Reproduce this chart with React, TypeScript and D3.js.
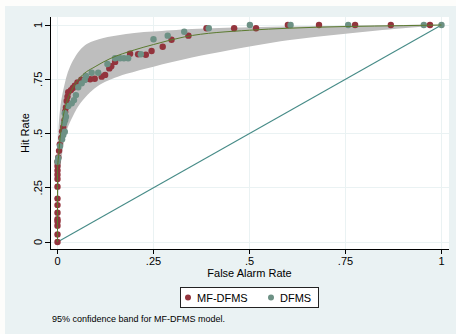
import * as d3 from "d3";
import React, { useEffect, useRef } from "react";

// fitted ROC curve for MF-DFMS and its 95% band
const curveFa = [0, 0, 0.003, 0.008, 0.015, 0.025, 0.04, 0.06, 0.1, 0.137, 0.2, 0.25, 0.33, 0.5, 0.6, 0.75, 0.9, 1];
const curveHit = [0, 0.33, 0.4, 0.5, 0.58, 0.65, 0.71, 0.76, 0.81, 0.845, 0.885, 0.91, 0.945, 0.976, 0.985, 0.993, 0.997, 1];

const upperFa = [0, 0.0005, 0.002, 0.0065, 0.015, 0.033, 0.067, 0.11, 0.2, 0.25, 0.35, 0.5, 0.75, 1];
const upperHit = [0, 0.35, 0.5, 0.61, 0.7, 0.81, 0.9, 0.935, 0.963, 0.97, 0.982, 0.99, 0.997, 1];

const lowerFa = [0, 0.002, 0.005, 0.01, 0.016, 0.025, 0.04, 0.06, 0.085, 0.11, 0.14, 0.18, 0.25, 0.35, 0.45, 0.6, 0.75, 0.9, 1];
const lowerHit = [0, 0.2, 0.3, 0.38, 0.45, 0.52, 0.58, 0.64, 0.69, 0.725, 0.75, 0.775, 0.808, 0.85, 0.885, 0.93, 0.96, 0.985, 1];

const mfFa = [0, 0, 0, 0, 0, 0, 0, 0, 0, 0, 0, 0, 0, 0,
  0.002, 0.004, 0.006, 0.01, 0.012, 0.015, 0.018, 0.02, 0.022, 0.024, 0.026, 0.028, 0.035, 0.04, 0.045,
  0.052, 0.062, 0.075, 0.085, 0.097, 0.115, 0.124, 0.135, 0.14, 0.15, 0.189, 0.21, 0.23, 0.245, 0.274,
  0.297, 0.341, 0.388, 0.46, 0.517, 0.6, 0.681, 0.775, 0.868, 0.97];
const mfHit = [0, 0.035, 0.075, 0.095, 0.105, 0.135, 0.17, 0.2, 0.255, 0.29, 0.31, 0.33, 0.35, 0.37,
  0.39, 0.42, 0.45, 0.48, 0.51, 0.53, 0.56, 0.6, 0.62, 0.65, 0.67, 0.69, 0.7, 0.71, 0.72,
  0.735, 0.748, 0.752, 0.75, 0.752, 0.762, 0.77, 0.8, 0.81, 0.83, 0.868, 0.865, 0.863, 0.88, 0.9,
  0.932, 0.951, 0.985, 0.985, 0.985, 1, 1, 1, 1, 1];

const dfFa = [0.0, 0.002, 0.0065, 0.012, 0.015, 0.019, 0.017, 0.02, 0.022, 0.019, 0.028, 0.037, 0.043,
  0.048, 0.054, 0.063, 0.071, 0.074, 0.089, 0.106, 0.13, 0.15, 0.163, 0.173, 0.184, 0.217, 0.25,
  0.287, 0.33, 0.394, 0.501, 0.607, 0.757, 0.954, 1];
const dfHit = [0.37, 0.386, 0.442, 0.473, 0.493, 0.508, 0.547, 0.562, 0.577, 0.593, 0.627, 0.639, 0.654,
  0.677, 0.713, 0.731, 0.747, 0.765, 0.78, 0.78, 0.82, 0.847, 0.847, 0.847, 0.847, 0.865, 0.934,
  0.951, 0.969, 0.985, 1, 1, 1, 1, 1];

const ticks = [0, 0.25, 0.5, 0.75, 1];
const tickLabels = ["0", ".25", ".5", ".75", "1"];
const seriesNames = ["MF-DFMS", "DFMS"];
const seriesColors = ["#93343d", "#6d9185"];

export default function App() {
  const ref = useRef<SVGSVGElement>(null);

  useEffect(() => {
    const W = 456;
    const H = 334;
    const font = "'Liberation Sans', Arial, Helvetica, sans-serif";
    const plot = { left: 50, right: 449, top: 17, bottom: 249 };

    const svg = d3.select(ref.current).attr("width", W).attr("height", H);
    svg.selectAll("*").remove();

    svg.append("rect").attr("width", W).attr("height", H).attr("fill", "#fdfdfb");
    svg.append("rect").attr("x", 5).attr("y", 6).attr("width", W - 5).attr("height", H - 6).attr("fill", "#eaf2f3");
    svg
      .append("rect")
      .attr("x", plot.left)
      .attr("y", plot.top)
      .attr("width", plot.right - plot.left)
      .attr("height", plot.bottom - plot.top)
      .attr("fill", "#fff");

    const x = d3.scaleLinear().domain([0, 1]).range([57.5, 441.5]);
    const y = d3.scaleLinear().domain([0, 1]).range([242, 25]);

    // grid
    const grid = svg.append("g").attr("stroke", "#eaf2f3").attr("stroke-width", 1).attr("shape-rendering", "crispEdges");
    grid
      .selectAll(".gy")
      .data(ticks)
      .enter()
      .append("line")
      .attr("x1", plot.left)
      .attr("x2", plot.right)
      .attr("y1", (d) => y(d))
      .attr("y2", (d) => y(d));
    grid
      .selectAll(".gx")
      .data(ticks)
      .enter()
      .append("line")
      .attr("y1", plot.top)
      .attr("y2", plot.bottom)
      .attr("x1", (d) => x(d))
      .attr("x2", (d) => x(d));

    // band
    const upper = upperFa.map((f, i) => [f, upperHit[i]]);
    const lower = lowerFa.map((f, i) => [f, lowerHit[i]]);
    const bandPts = upper.concat(lower.slice().reverse().slice(1));
    svg
      .append("path")
      .attr(
        "d",
        d3
          .line()
          .curve(d3.curveCatmullRomClosed.alpha(0.5))
          .x((d: any) => x(d[0]))
          .y((d: any) => y(d[1]))(bandPts.slice(0, -1) as any)
      )
      .attr("fill", "#bebebe")
      .attr("stroke", "none");

    // chance line
    svg
      .append("line")
      .attr("x1", x(0))
      .attr("y1", y(0))
      .attr("x2", x(1))
      .attr("y2", y(1))
      .attr("stroke", "#468b87")
      .attr("stroke-width", 1.1);

    // points
    const series = [
      mfFa.map((f, i) => [f, mfHit[i]]),
      dfFa.map((f, i) => [f, dfHit[i]]),
    ];
    series.forEach((pts, s) => {
      svg
        .append("g")
        .selectAll("circle")
        .data(pts)
        .enter()
        .append("circle")
        .attr("cx", (d) => x(d[0]))
        .attr("cy", (d) => y(d[1]))
        .attr("r", 3.2)
        .attr("fill", seriesColors[s]);
    });

    // fitted curve
    const curve = curveFa.map((f, i) => [f, curveHit[i]]);
    svg
      .append("path")
      .attr("d", d3.line().curve(d3.curveMonotoneX).x((d: any) => x(d[0])).y((d: any) => y(d[1]))(curve as any))
      .attr("fill", "none")
      .attr("stroke", "#5b7a2f")
      .attr("stroke-width", 1);

    // axes
    const ax = svg.append("g").attr("stroke", "#000").attr("shape-rendering", "crispEdges");
    ax.append("line").attr("x1", plot.left).attr("x2", plot.left).attr("y1", plot.top).attr("y2", plot.bottom);
    ax.append("line").attr("x1", plot.left).attr("x2", plot.right).attr("y1", plot.bottom).attr("y2", plot.bottom);
    ax.selectAll(".ty")
      .data(ticks)
      .enter()
      .append("line")
      .attr("x1", plot.left - 5)
      .attr("x2", plot.left)
      .attr("y1", (d) => y(d))
      .attr("y2", (d) => y(d));
    ax.selectAll(".tx")
      .data(ticks)
      .enter()
      .append("line")
      .attr("y1", plot.bottom)
      .attr("y2", plot.bottom + 5)
      .attr("x1", (d) => x(d))
      .attr("x2", (d) => x(d));

    svg
      .append("g")
      .selectAll("text")
      .data(ticks)
      .enter()
      .append("text")
      .attr("transform", (d) => `translate(42,${y(d)}) rotate(-90)`)
      .attr("text-anchor", "middle")
      .attr("font-family", font)
      .attr("font-size", 11)
      .text((d, i) => tickLabels[i]);

    svg
      .append("g")
      .selectAll("text")
      .data(ticks)
      .enter()
      .append("text")
      .attr("x", (d) => x(d))
      .attr("y", 265)
      .attr("text-anchor", "middle")
      .attr("font-family", font)
      .attr("font-size", 11)
      .text((d, i) => tickLabels[i]);

    svg
      .append("text")
      .attr("transform", `translate(28.5,${(plot.top + plot.bottom) / 2}) rotate(-90)`)
      .attr("text-anchor", "middle")
      .attr("font-family", font)
      .attr("font-size", 11)
      .text("Hit Rate");

    svg
      .append("text")
      .attr("x", (plot.left + plot.right) / 2)
      .attr("y", 276.5)
      .attr("text-anchor", "middle")
      .attr("font-family", font)
      .attr("font-size", 11)
      .text("False Alarm Rate");

    // legend
    const lg = svg.append("g");
    lg.append("rect")
      .attr("x", 180.5)
      .attr("y", 287.5)
      .attr("width", 138)
      .attr("height", 20)
      .attr("fill", "#fff")
      .attr("stroke", "#222")
      .attr("stroke-width", 1);
    const items = [
      { mx: 188, tx: 197 },
      { mx: 271, tx: 280 },
    ];
    items.forEach((it, i) => {
      lg.append("circle").attr("cx", it.mx).attr("cy", 297.5).attr("r", 3).attr("fill", seriesColors[i]);
      lg.append("text")
        .attr("x", it.tx)
        .attr("y", 301.5)
        .attr("font-family", font)
        .attr("font-size", 11)
        .text(seriesNames[i]);
    });

    svg
      .append("text")
      .attr("x", 52)
      .attr("y", 321.5)
      .attr("font-family", font)
      .attr("font-size", 9)
      .text("95% confidence band for MF-DFMS model.");
  }, []);

  return (
    <div style={{ position: "absolute", left: 0, top: 0 }}>
      <svg ref={ref} style={{ display: "block" }}></svg>
    </div>
  );
}
